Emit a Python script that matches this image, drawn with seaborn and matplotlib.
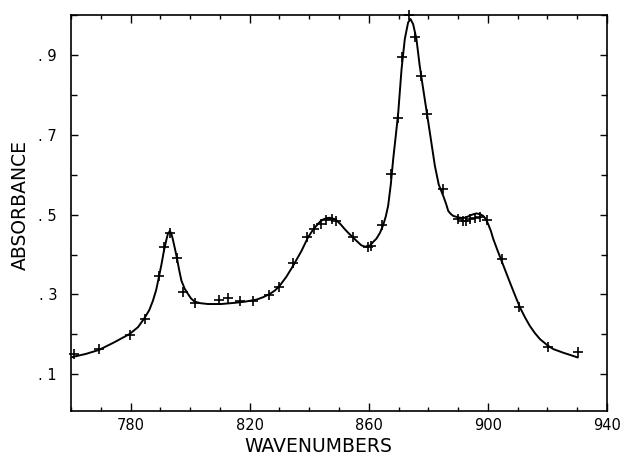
import matplotlib
matplotlib.use("Agg")
import matplotlib.pyplot as plt
from matplotlib.ticker import MultipleLocator, FixedLocator
import seaborn as sns
import pandas as pd

# Measured data points (crosses)
point_wavenumber = [760.9, 769.4, 779.7, 784.7, 789.5, 791.2, 793.2, 795.5, 797.7, 801.5,
                    809.7, 812.7, 816.6, 821.1, 826.5, 829.8, 834.6, 839.4, 841.5, 843.8,
                    845.8, 847.5, 849.1, 854.7, 859.8, 860.6, 864.6, 867.6, 869.8, 871.3,
                    873.6, 875.5, 877.5, 879.7, 885.0, 890.0, 891.7, 892.8, 894.0, 895.6,
                    897.3, 899.6, 904.7, 910.3, 920.1, 930.2]
point_absorbance = [0.151, 0.163, 0.198, 0.238, 0.347, 0.419, 0.455, 0.392, 0.307, 0.278,
                    0.286, 0.291, 0.284, 0.284, 0.299, 0.319, 0.380, 0.444, 0.463, 0.476,
                    0.486, 0.488, 0.484, 0.445, 0.420, 0.421, 0.473, 0.602, 0.742, 0.896,
                    1.000, 0.946, 0.848, 0.752, 0.563, 0.490, 0.485, 0.485, 0.489, 0.491,
                    0.494, 0.486, 0.389, 0.269, 0.169, 0.155]

# Fitted curve
curve_wavenumber = [760.3, 765.0, 769.4, 774.5, 779.7, 782.5, 784.7, 786.3, 787.5, 788.6,
                    789.5, 790.4, 791.2, 792.0, 792.5, 793.2, 793.7, 794.2, 794.8, 795.5,
                    796.3, 797.1, 798.2, 799.3, 800.3, 801.5, 803.5, 806.0, 810.5, 815.0,
                    818.5, 822.3, 824.5, 826.7, 828.5, 830.1, 832.3, 834.6, 837.4, 839.6,
                    841.0, 842.4, 843.6, 844.7, 845.8, 846.9, 848.0, 849.1, 850.5, 852.0,
                    853.4, 854.7, 856.2, 857.5, 858.6, 859.5, 860.5, 861.4, 862.6, 863.8,
                    864.8, 865.7, 866.5, 867.4, 868.2, 869.1, 869.9, 871.0, 872.1, 873.2,
                    874.0, 874.9, 876.0, 877.1, 878.0, 878.8, 880.5, 882.2, 883.5, 885.0,
                    886.0, 886.7, 887.5, 888.3, 890.0, 891.7, 893.0, 894.0, 895.2, 896.2,
                    897.3, 898.4, 899.3, 900.1, 901.0, 901.8, 903.2, 904.6, 906.0, 907.4,
                    909.1, 910.8, 912.5, 914.1, 915.8, 917.5, 920.1, 922.0, 925.3, 927.8,
                    930.2]
curve_absorbance = [0.143, 0.151, 0.161, 0.180, 0.201, 0.218, 0.241, 0.261, 0.284, 0.311,
                    0.343, 0.376, 0.409, 0.436, 0.451, 0.459, 0.452, 0.438, 0.418, 0.394,
                    0.362, 0.334, 0.314, 0.301, 0.290, 0.282, 0.278, 0.276, 0.276, 0.279,
                    0.282, 0.287, 0.293, 0.301, 0.310, 0.322, 0.344, 0.372, 0.409, 0.443,
                    0.459, 0.472, 0.482, 0.488, 0.491, 0.492, 0.490, 0.486, 0.476, 0.463,
                    0.452, 0.443, 0.432, 0.423, 0.420, 0.419, 0.423, 0.431, 0.440, 0.455,
                    0.473, 0.495, 0.522, 0.576, 0.639, 0.700, 0.756, 0.864, 0.940, 0.981,
                    0.990, 0.977, 0.940, 0.873, 0.828, 0.789, 0.706, 0.622, 0.575, 0.547,
                    0.526, 0.509, 0.502, 0.497, 0.493, 0.491, 0.494, 0.498, 0.501, 0.503,
                    0.501, 0.497, 0.489, 0.476, 0.459, 0.439, 0.411, 0.384, 0.357, 0.330,
                    0.298, 0.267, 0.242, 0.221, 0.203, 0.188, 0.172, 0.163, 0.154, 0.148,
                    0.142]

x_tick_values = [780, 820, 860, 900, 940]
x_tick_labels = ["780", "820", "860", "900", "940"]
y_tick_values = [0.1, 0.3, 0.5, 0.7, 0.9]
y_tick_labels = [". 1", ". 3", ". 5", ". 7", ". 9"]

sns.set_style("ticks")
plt.rcParams["font.family"] = ["DejaVu Sans"]

fig = plt.figure(figsize=(6.27, 4.62), dpi=100)
ax = fig.add_axes([71 / 627, 1 - 411 / 462, (607 - 71) / 627, (411 - 15) / 462])

curve_df = pd.DataFrame({"x": curve_wavenumber, "y": curve_absorbance})
pts_df = pd.DataFrame({"x": point_wavenumber, "y": point_absorbance})

sns.lineplot(data=curve_df, x="x", y="y", ax=ax, color="black", linewidth=1.4,
             sort=False, estimator=None)
sns.scatterplot(data=pts_df, x="x", y="y", ax=ax, marker="+", s=45, color="black",
                linewidth=1.2, zorder=3, clip_on=False)

ax.set_xlim(760, 940)
ax.set_ylim(0.008, 1.0)

ax.xaxis.set_major_locator(FixedLocator(x_tick_values))
ax.set_xticklabels(x_tick_labels)
ax.xaxis.set_minor_locator(MultipleLocator(10))
ax.yaxis.set_major_locator(FixedLocator(y_tick_values))
ax.set_yticklabels(y_tick_labels)
ax.yaxis.set_minor_locator(MultipleLocator(0.1))

ax.tick_params(axis="both", which="both", direction="in", top=True, right=True,
               color="black", labelcolor="black", width=1.0)
ax.tick_params(axis="x", which="major", length=6, pad=5, labelsize=10.5)
ax.tick_params(axis="x", which="minor", length=3)
ax.tick_params(axis="y", which="major", length=5, pad=10, labelsize=10.5)
ax.tick_params(axis="y", which="minor", length=4)

for sp in ax.spines.values():
    sp.set_visible(True)
    sp.set_linewidth(1.2)
    sp.set_color("black")

ax.set_xlabel("WAVENUMBERS", fontsize=13.5, color="black")
ax.set_ylabel("ABSORBANCE", fontsize=13.5, color="black")
ax.xaxis.set_label_coords((318 - 71) / 536, (411 - 452) / 396)
ax.xaxis.label.set_va("baseline")
ax.yaxis.set_label_coords((20 - 71) / 536, (411 - 205) / 396)
ax.yaxis.label.set_va("center")

fig.savefig("out.png", dpi=100, facecolor="white")
